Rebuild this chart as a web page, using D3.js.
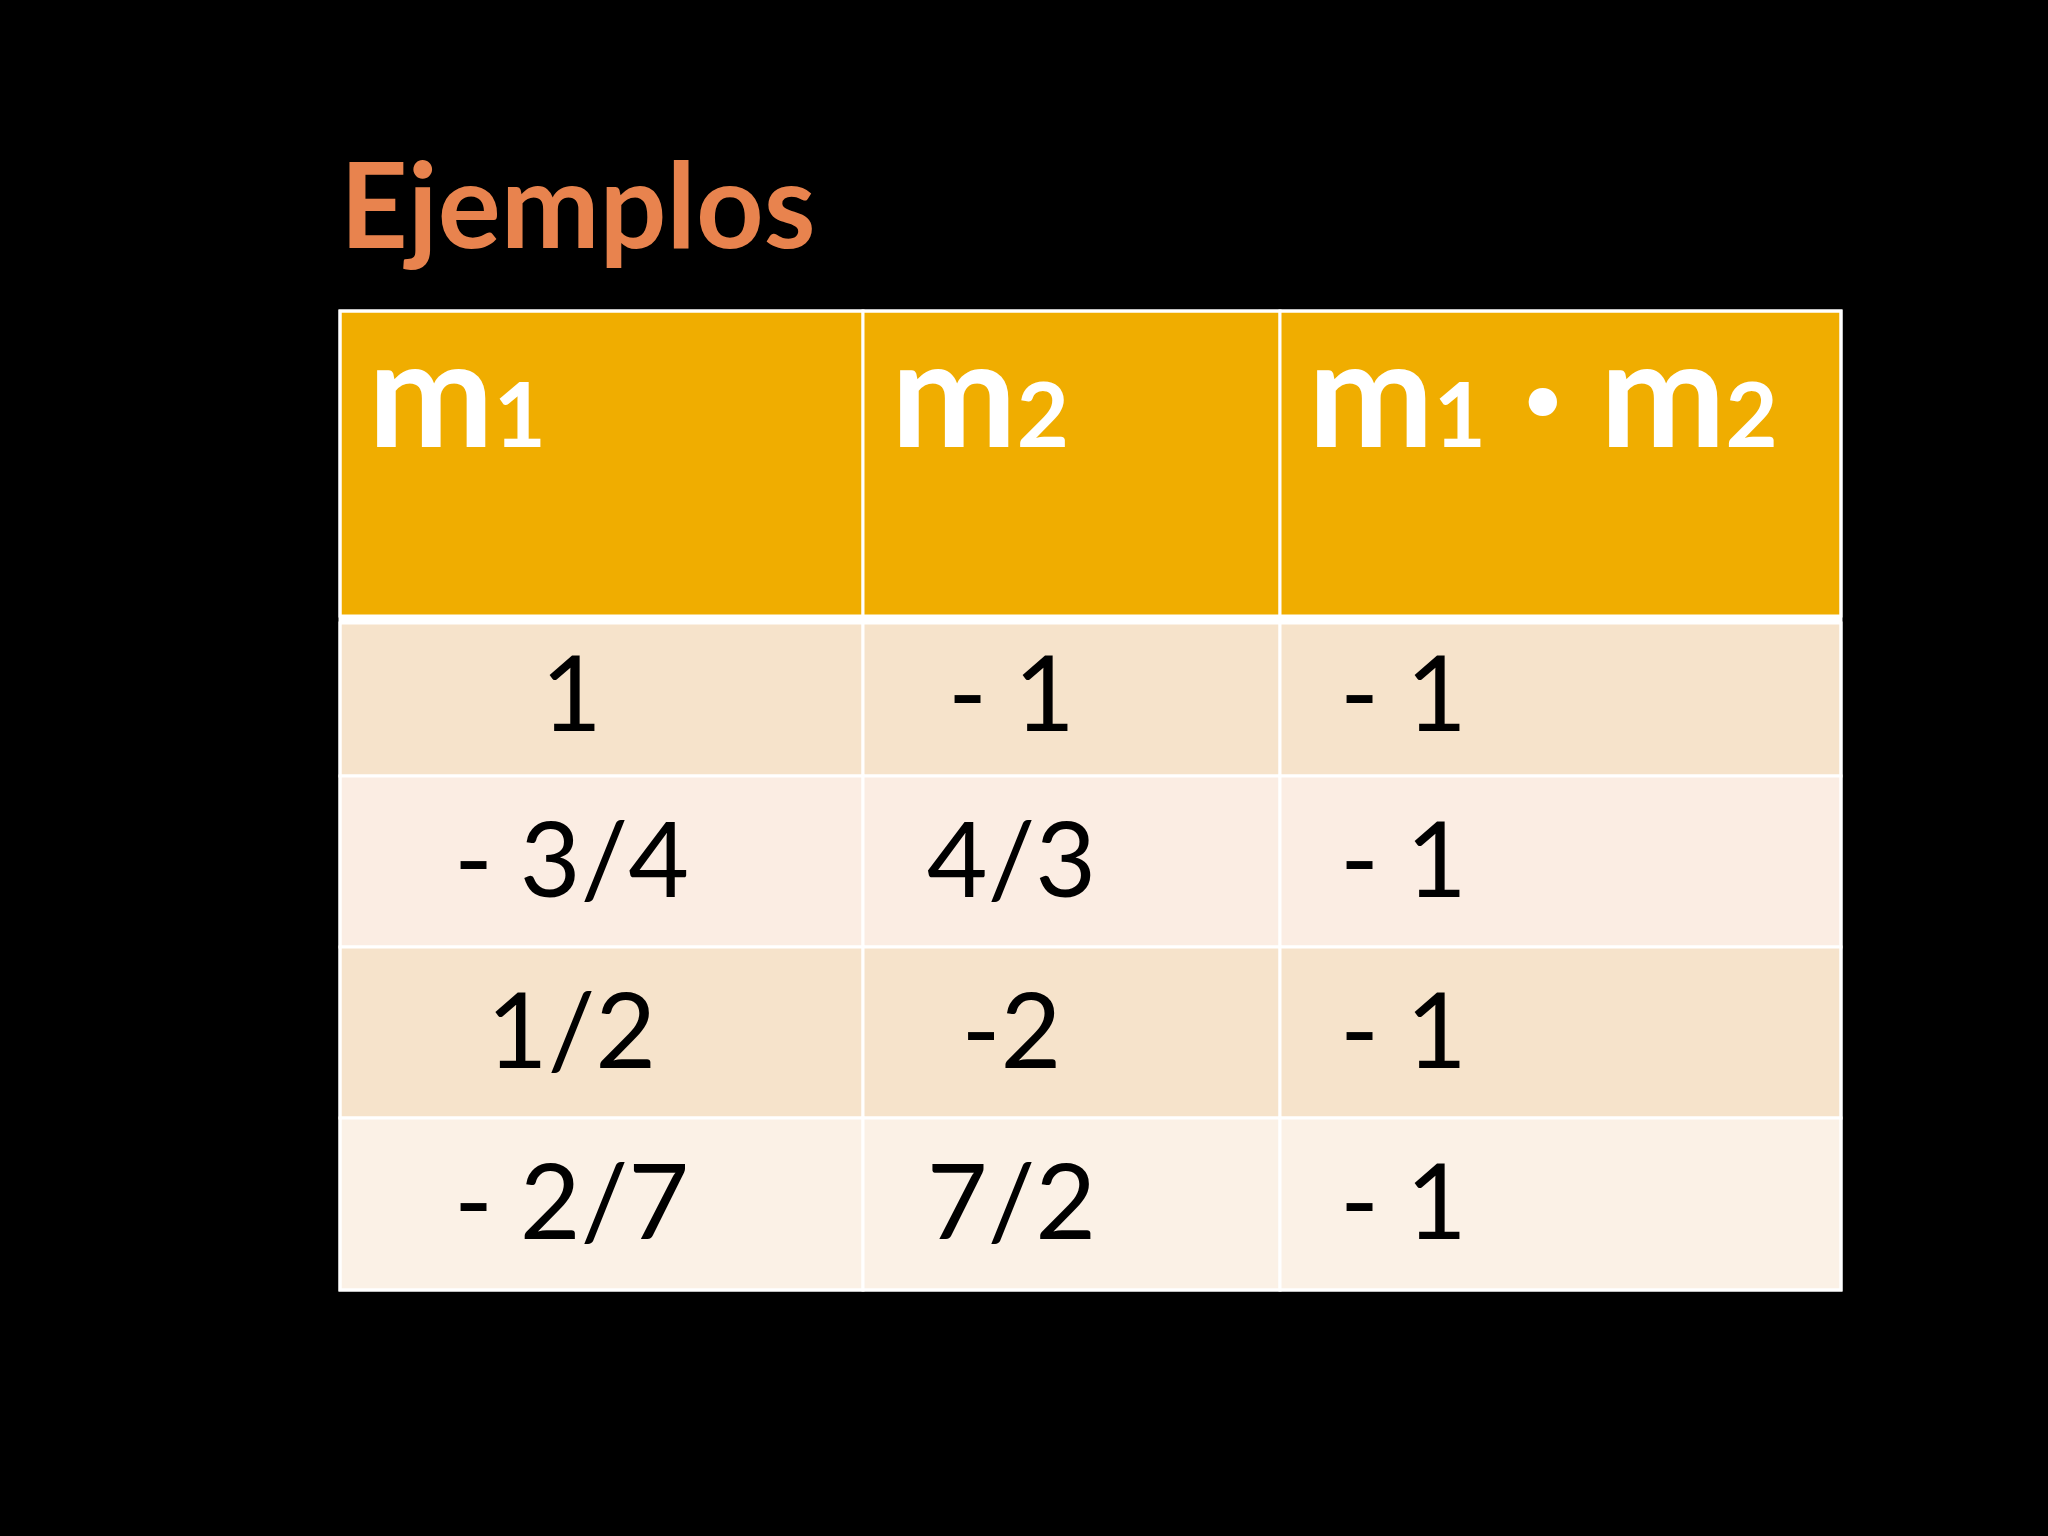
<!DOCTYPE html>
<html><head><meta charset="utf-8">
<script src="https://cdn.jsdelivr.net/npm/d3@7"></script>
<style>body{margin:0;background:#000}</style></head>
<body><svg id="c" width="2048" height="1536"></svg>
<script>
const title = "Ejemplos";
const headers = [["m","1"],["m","2"],["m","1","m","2"]];
const col1 = ["1","- 3/4","1/2","- 2/7"];
const col2 = ["- 1","4/3","-2","7/2"];
const col3 = ["- 1","- 1","- 1","- 1"];
const rowFills = ["#F6E3CB","#FBEDE3","#F6E3CB","#FBF1E6"];

const svg = d3.select("#c");
svg.append("rect").attr("width",2048).attr("height",1536).attr("fill","#000");
const font = "'Comic Sans MS','Lato','DejaVu Sans',sans-serif";
svg.append("text").attr("x",340).attr("y",248).attr("font-family",font).attr("font-weight","bold")
  .attr("font-size",118).attr("fill","#E8834E").text(title);

const colEdges = [340,863,1280,1841];
const rowEdges = [311,616,776,947,1118,1290];
const cols = [col1,col2,col3];
svg.append("rect").attr("x",340).attr("y",311).attr("width",1501).attr("height",979).attr("fill","#fff");
for(let c=0;c<3;c++){
  svg.append("rect").attr("x",colEdges[c]).attr("y",rowEdges[0]).attr("width",colEdges[c+1]-colEdges[c])
    .attr("height",rowEdges[1]-rowEdges[0]).attr("fill","#F0AD00").attr("stroke","#fff").attr("stroke-width",3);
  const t = svg.append("text").attr("x",colEdges[c]+28).attr("y",447).attr("font-family",font)
    .attr("font-weight","bold").attr("fill","#fff").attr("font-size",150);
  const h = headers[c];
  t.append("tspan").text(h[0]);
  t.append("tspan").attr("font-size",90).text(h[1]);
  if(h.length>2){
    t.append("tspan").attr("font-size",150).text(" · ");
    t.append("tspan").attr("font-size",150).text(h[2]);
    t.append("tspan").attr("font-size",90).text(h[3]);
  }
}
for(let r=0;r<4;r++){
  for(let c=0;c<3;c++){
    const top = rowEdges[r+1]+(r==0?7:0);
    svg.append("rect").attr("x",colEdges[c]).attr("y",top).attr("width",colEdges[c+1]-colEdges[c])
      .attr("height",rowEdges[r+2]-top).attr("fill",rowFills[r]).attr("stroke","#fff").attr("stroke-width",3);
    const cy=(rowEdges[r+1]+rowEdges[r+2])/2+35;
    const t=svg.append("text").attr("y",cy).attr("font-family",font).attr("font-size",105).attr("fill","#000").text(cols[c][r]);
    if(c==0) t.attr("x",(colEdges[0]+colEdges[1])/2-30).attr("text-anchor","middle");
    else if(c==1) t.attr("x",(colEdges[1]+colEdges[2])/2-60).attr("text-anchor","middle");
    else t.attr("x",colEdges[2]+60);
  }
}
svg.append("rect").attr("x",340).attr("y",311).attr("width",1501).attr("height",979).attr("fill","none").attr("stroke","#fff").attr("stroke-width",3);
</script></body></html>
